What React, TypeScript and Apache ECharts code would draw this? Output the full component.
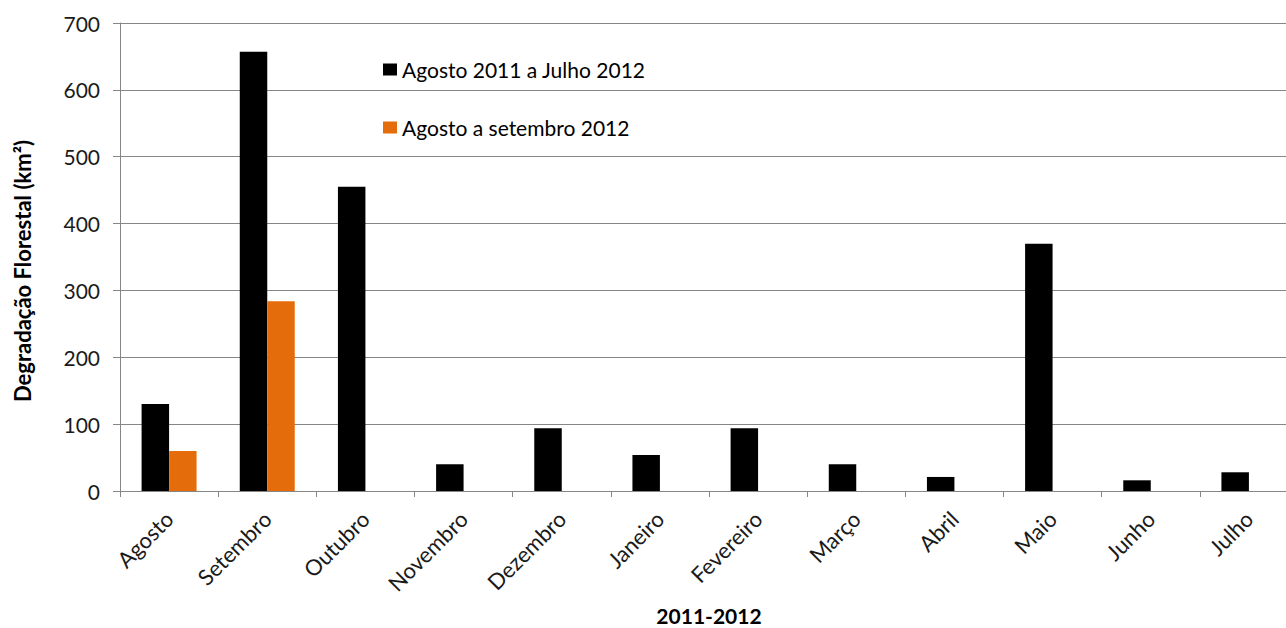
import React, { useEffect, useRef } from "react";
import * as echarts from "echarts";

const categories = ["Agosto", "Setembro", "Outubro", "Novembro", "Dezembro", "Janeiro", "Fevereiro", "Março", "Abril", "Maio", "Junho", "Julho"];
const series2011 = [130, 657, 455, 40, 94, 54, 94, 40, 21, 370, 16, 28];
const series2012 = [60, 284, null, null, null, null, null, null, null, null, null, null];
const seriesNames = ["Agosto 2011 a Julho 2012", "Agosto a setembro 2012"];
const yTicks = { min: 0, max: 700, interval: 100 };
const yTitle = "Degradação Florestal (km²)";
const xTitle = "2011-2012";

const FONT = "Lato";

export default function App() {
  const ref = useRef<HTMLDivElement>(null);
  useEffect(() => {
    if (!ref.current) return;
    const chart = echarts.init(ref.current, null, { renderer: "svg" });
    chart.setOption({
      animation: false,
      textStyle: { fontFamily: FONT },
      grid: { left: 120, right: -12, top: 23, bottom: 137, containLabel: false, outerBoundsMode: "none" },
      legend: {
        orient: "vertical",
        left: 378,
        top: 54,
        padding: 5,
        itemGap: 37,
        itemWidth: 14,
        itemHeight: 12,
        icon: "rect",
        textStyle: { fontFamily: FONT, fontSize: 21, color: "#000" },
        data: seriesNames,
      },
      graphic: [
        {
          type: "text",
          x: 22,
          y: 271,
          rotation: Math.PI / 2,
          style: {
            text: yTitle,
            fontFamily: FONT,
            fontSize: 22,
            fontWeight: "bold",
            fill: "#000",
            align: "center",
            verticalAlign: "middle",
          },
        },
      ],
      xAxis: {
        type: "category",
        data: categories,
        name: xTitle,
        nameLocation: "middle",
        nameGap: 114,
        nameTextStyle: { fontFamily: FONT, fontSize: 21, lineHeight: 20, fontWeight: "bold", color: "#000" },
        axisLine: { lineStyle: { color: "#868686", width: 1 } },
        axisTick: { show: true, length: 6, lineStyle: { color: "#868686" }, alignWithLabel: false },
        axisLabel: { rotate: 45, fontFamily: FONT, fontSize: 22, color: "#1a1a1a", margin: 24, interval: 0 },
      },
      yAxis: {
        type: "value",
        min: yTicks.min,
        max: yTicks.max,
        interval: yTicks.interval,
        axisLine: { show: true, lineStyle: { color: "#868686", width: 1 } },
        axisTick: { show: true, length: 7, lineStyle: { color: "#868686" } },
        axisLabel: { fontFamily: FONT, fontSize: 21, color: "#1a1a1a", margin: 20 },
        splitLine: { show: true, lineStyle: { color: "#868686", width: 1 } },
      },
      series: [
        {
          name: seriesNames[0],
          type: "bar",
          data: series2011,
          barGap: "0%",
          barCategoryGap: "44%",
          itemStyle: { color: "#000000" },
        },
        {
          name: seriesNames[1],
          type: "bar",
          data: series2012,
          barGap: "0%",
          barCategoryGap: "44%",
          itemStyle: { color: "#E46C0A" },
        },
      ],
    });
    return () => chart.dispose();
  }, []);
  return <div ref={ref} style={{ width: 1286, height: 628, position: "absolute", left: 0, top: 0 }} />;
}
